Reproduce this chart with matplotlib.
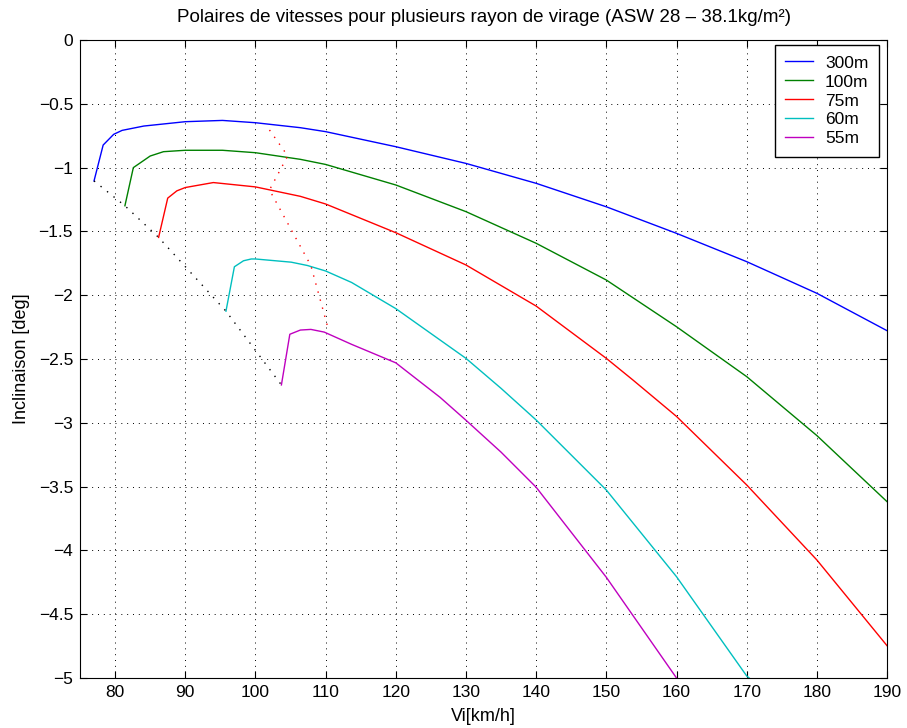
import numpy as np
import matplotlib.pyplot as plt

plt.rcParams['font.family'] = ['Liberation Sans', 'DejaVu Sans']

# polaires en virage
v_300 = [77.0, 78.3, 79.8, 81.0, 84.1, 90, 95.3, 100, 106.4, 110, 120, 130, 140, 150, 160, 170, 180, 190]
w_300 = [-1.104, -0.823, -0.739, -0.708, -0.674, -0.640, -0.630, -0.648, -0.687, -0.718, -0.836, -0.967,
         -1.123, -1.307, -1.515, -1.737, -1.985, -2.278]

v_100 = [81.4, 82.6, 85.0, 86.9, 90, 95.3, 100, 106.4, 110, 120, 130, 140, 150, 160, 170, 180, 190]
w_100 = [-1.299, -1.0, -0.909, -0.875, -0.864, -0.864, -0.883, -0.935, -0.975, -1.136, -1.345, -1.593,
         -1.881, -2.247, -2.638, -3.10, -3.618]

v_75 = [86.2, 87.5, 88.8, 90, 94.0, 100, 106.4, 110, 120, 130, 140, 150, 153.8, 160, 170, 180, 190]
w_75 = [-1.547, -1.239, -1.182, -1.156, -1.117, -1.151, -1.225, -1.285, -1.510, -1.763, -2.085, -2.495,
        -2.665, -2.950, -3.487, -4.075, -4.747]

v_60 = [95.8, 97.0, 98.3, 99.4, 100, 105.1, 107.4, 110, 113.7, 120, 130, 135, 140, 150, 160, 170, 170.35]
w_60 = [-2.125, -1.777, -1.730, -1.716, -1.716, -1.741, -1.767, -1.81, -1.90, -2.105, -2.495, -2.73,
        -2.978, -3.527, -4.206, -4.984, -5.0]

v_55 = [103.7, 104.9, 106.4, 107.9, 109.8, 113.7, 120, 126.3, 130, 135, 140, 150, 160]
w_55 = [-2.703, -2.306, -2.273, -2.268, -2.289, -2.385, -2.53, -2.80, -2.98, -3.23, -3.505, -4.211, -5.0]

# points de decrochage et points de finesse max
v_stall = [77.0, 81.4, 86.2, 95.8, 103.7]
w_stall = [-1.104, -1.299, -1.547, -2.125, -2.703]
v_opt = [102.0, 104.6, 102.0, 107.9, 110.4]
w_opt = [-0.705, -0.908, -1.175, -1.768, -2.27]

fig = plt.figure(figsize=(9.07, 7.28), dpi=100)
ax = fig.add_axes([0.0882, 0.0687, 0.8898, 0.8763])

ax.plot(v_300, w_300, color='#0000ff', lw=1, label='300m')
ax.plot(v_100, w_100, color='#008000', lw=1, label='100m')
ax.plot(v_75, w_75, color='#ff0000', lw=1, label='75m')
ax.plot(v_60, w_60, color='#00bfbf', lw=1, label='60m')
ax.plot(v_55, w_55, color='#bf00bf', lw=1, label='55m')
ax.plot(v_stall, w_stall, color='k', ls=(0, (1, 5)), lw=1)
ax.plot(v_opt, w_opt, color='r', ls=(0, (1, 5)), lw=1)

ax.set_xlim(75, 190)
ax.set_ylim(-5, 0)
ax.set_xticks(np.arange(80, 191, 10))
ax.set_yticks(np.arange(-5, 0.01, 0.5))
ax.set_yticklabels(['\u22125', '\u22124.5', '\u22124', '\u22123.5', '\u22123', '\u22122.5',
                    '\u22122', '\u22121.5', '\u22121', '\u22120.5', '0'])
ax.tick_params(direction='in', top=True, right=True, labelsize=12.5, length=5, pad=5)
ax.grid(True, color='k', ls=(0, (1, 5)), lw=0.7)

ax.set_xlabel('Vi[km/h]', fontsize=13, labelpad=6)
ax.set_ylabel('Inclinaison [deg]', fontsize=13, labelpad=6)
ax.set_title('Polaires de vitesses pour plusieurs rayon de virage (ASW 28 \u2013 38.1kg/m\u00b2)',
             fontsize=13.5, pad=13)

leg = ax.legend(loc='upper right', bbox_to_anchor=(879 / 907, 1 - 45 / 728),
                bbox_transform=fig.transFigure, fontsize=12.5, fancybox=False, framealpha=1,
                edgecolor='k', handlelength=1.6, handletextpad=0.7, borderpad=0.6,
                labelspacing=0.22, borderaxespad=0)
leg.get_frame().set_linewidth(1)

fig.savefig('out.png', dpi=100)
